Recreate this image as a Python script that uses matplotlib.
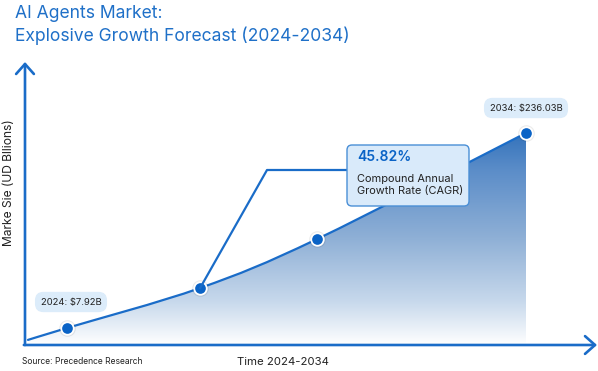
import numpy as np
import matplotlib
matplotlib.use("Agg")
import matplotlib.pyplot as plt
from matplotlib.path import Path
from matplotlib.patches import PathPatch, FancyBboxPatch
from matplotlib.colors import LinearSegmentedColormap
from matplotlib.lines import Line2D

plt.rcParams["font.family"] = ["Inter", "DejaVu Sans"]

# illustrative curve
curve_years = [2023.15, 2024, 2026.9, 2029.45, 2034]
curve_values = [-6.0, 7.92, 54.7, 112.0, 236.03]

# marked points (all but the curve start)
point_years = curve_years[1:]
point_values = curve_values[1:]

start_label = "2024: $7.92B"
end_label = "2034: $236.03B"
cagr_value = "45.82%"
cagr_text = "Compound Annual\nGrowth Rate (CAGR)"

BLUE = "#1a6cc8"
DOT = "#0a63c6"
TITLE = "#1f70c8"

W, H = 598, 371
fig = plt.figure(figsize=(W / 100, H / 100), dpi=100)

# axes spans the drawing area: left spine at x=25px, baseline at y=345px
ax = fig.add_axes([25 / W, (H - 345) / H, (597 - 25) / W, (345 - 62) / H])
ax.set_xlim(2023.085, 2035.547)
ax.set_ylim(-11.97, 319.07)
ax.axis("off")
ybase = ax.get_ylim()[0]


def smooth_path(xs, ys):
    # Catmull-Rom through the points, as cubic bezier segments
    pts = np.column_stack([xs, ys])
    ext = np.vstack([pts[0], pts, pts[-1]])
    verts = [pts[0]]
    codes = [Path.MOVETO]
    for i in range(1, len(ext) - 2):
        p0, p1, p2, p3 = ext[i - 1], ext[i], ext[i + 1], ext[i + 2]
        verts += [p1 + (p2 - p0) / 6, p2 - (p3 - p1) / 6, p2]
        codes += [Path.CURVE4] * 3
    return verts, codes


verts, codes = smooth_path(curve_years, curve_values)

# gradient fill under the curve
fill_verts = verts + [(curve_years[-1], ybase), (curve_years[0], ybase), verts[0]]
fill_codes = codes + [Path.LINETO, Path.LINETO, Path.CLOSEPOLY]
clip = PathPatch(Path(fill_verts, fill_codes), facecolor="none", edgecolor="none",
                 transform=ax.transData)
ax.add_patch(clip)
cmap = LinearSegmentedColormap.from_list(
    "grad", [(0, "#ffffff"), (0.2, "#c8d9ec"), (0.5, "#8fb0d6"),
             (0.83, "#5a8cc8"), (1, "#3272bb")])
grad = np.linspace(0, 1, 256).reshape(-1, 1)
im = ax.imshow(grad, cmap=cmap, origin="lower", aspect="auto",
               extent=[curve_years[0], curve_years[-1], ybase, max(curve_values)],
               zorder=1)
im.set_clip_path(clip)

# curve line
ax.add_patch(PathPatch(Path(verts, codes), facecolor="none", edgecolor=BLUE,
                       lw=1.6, zorder=3, capstyle="round"))

# axis arrows
ax.annotate("", xy=(0, 1), xytext=(0, 0), xycoords="axes fraction",
            arrowprops=dict(arrowstyle="->,head_length=0.45,head_width=0.4",
                            color=BLUE, lw=1.9, mutation_scale=16, shrinkA=0, shrinkB=0))
ax.annotate("", xy=(1, 0), xytext=(-0.002, 0), xycoords="axes fraction",
            arrowprops=dict(arrowstyle="->,head_length=0.45,head_width=0.4",
                            color=BLUE, lw=1.9, mutation_scale=16, shrinkA=0, shrinkB=0))

# connector from the 2027 point to the CAGR box (drawn in pixels)
fig.canvas.draw()
px, py = ax.transData.transform((point_years[1], point_values[1]))
to_disp = lambda x, y: (x, H - y)
cx, cy = to_disp(267, 170)
ex, ey = to_disp(346, 170)
fig.add_artist(Line2D([px, cx, ex], [py, cy, ey], color=BLUE, lw=1.6,
                      transform=None, zorder=2))

# points, with a soft shadow
ax.plot(point_years, point_values, "o", ms=12, color="#000000", alpha=0.08,
        mec="none", zorder=4)
ax.plot(point_years, point_values, "o", ms=9, color=DOT, mec="white", mew=1.3,
        zorder=5)

# CAGR box
box = FancyBboxPatch((347 / 100, (H - 206) / 100), 122 / 100, 61 / 100,
                     boxstyle="round,pad=0,rounding_size=0.05",
                     facecolor="#d9eafa", edgecolor="#4a8fd6", lw=1.0,
                     transform=fig.dpi_scale_trans, zorder=6)
fig.add_artist(box)
fig.text(357 / W, 1 - 157 / H, cagr_value, color=DOT, fontsize=10,
         fontweight="semibold", va="center", ha="left", zorder=7)
fig.text(357 / W, 1 - 185 / H, cagr_text, color="#222222", fontsize=7.9,
         va="center", ha="left", linespacing=1.35, zorder=7)

# value pills
pill = dict(boxstyle="round,pad=0.6,rounding_size=0.9", facecolor="#dcecfa",
            edgecolor="none")
fig.text(71 / W, 1 - 302 / H, start_label, fontsize=6.8, color="#222222",
         ha="center", va="center", bbox=pill)
fig.text(526 / W, 1 - 108 / H, end_label, fontsize=6.8, color="#222222",
         ha="center", va="center", bbox=pill)

# titles and labels
fig.text(15 / W, 1 - 13 / H, "AI Agents Market:", color=TITLE, fontsize=12.6,
         va="center", ha="left")
fig.text(15 / W, 1 - 36 / H, "Explosive Growth Forecast (2024-2034)", color=TITLE,
         fontsize=12.6, va="center", ha="left")
fig.text(9 / W, 1 - 183 / H, "Marke Sie (UD Bllions)", rotation=90, fontsize=8.7,
         color="#222222", va="center", ha="center")
fig.text(283 / W, 1 - 362 / H, "Time 2024-2034", fontsize=8.2, color="#222222",
         va="center", ha="center")
fig.text(22 / W, 1 - 362 / H, "Source: Precedence Research", fontsize=6.1,
         color="#222222", va="center", ha="left")

fig.savefig("out.png", dpi=100)
